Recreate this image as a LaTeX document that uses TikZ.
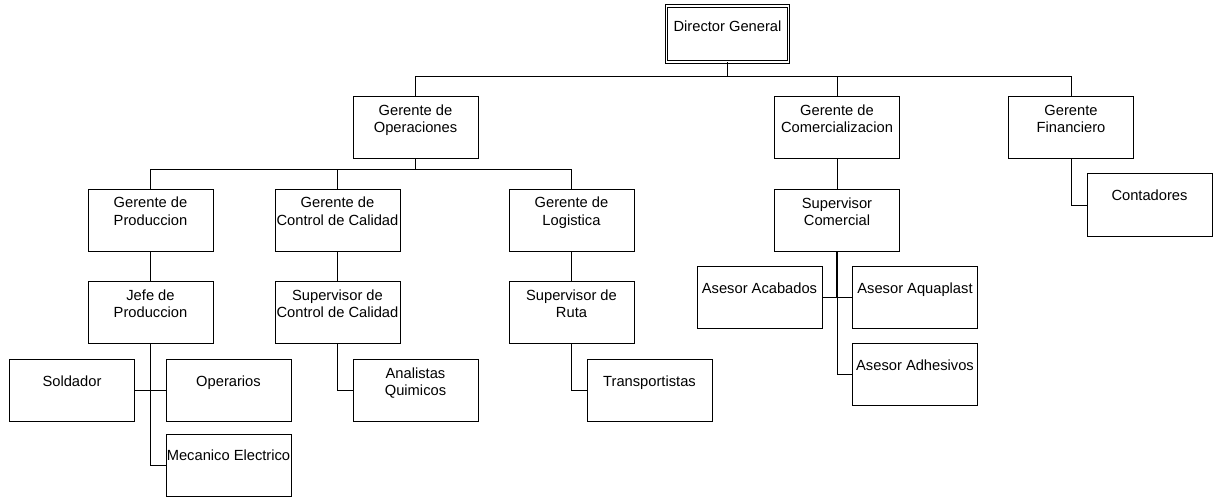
\documentclass[tikz,border=0pt]{standalone}
\usepackage{fontspec}
\setmainfont{Liberation Sans}
\newcommand{\bt}[3][62pt]{\parbox[c][#1][t]{125pt}{\centering\rule{0pt}{#2}#3}}
\begin{document}
\begin{tikzpicture}[x=1pt,y=-1pt,
  box/.style={draw, line width=1pt, inner sep=0pt, font=\fontsize{14.7pt}{17pt}\selectfont},
  conn/.style={line width=1pt}]
\useasboundingbox (0,0) rectangle (1214,497);
% level 1
\node[box, double, double distance=1.6pt, line width=0.8pt] (dir) at (727.5,34)
  {\parbox[c][56pt][t]{122pt}{\centering\rule{0pt}{26pt}Director General}};
% level 2
\node[box] (gop)  at (415.5,128) {\bt{19pt}{Gerente de\\Operaciones}};
\node[box] (gcom) at (837,128)   {\bt{19pt}{Gerente de\\Comercializacion}};
\node[box] (gfin) at (1071,128)  {\bt{19pt}{Gerente\\Financiero}};
% level 3
\node[box] (gprod)  at (150.5,220) {\bt{19pt}{Gerente de\\Produccion}};
\node[box] (gcal)   at (337.5,220) {\bt{19pt}{Gerente de\\Control de Calidad}};
\node[box] (glog)   at (571.5,220) {\bt{19pt}{Gerente de\\Logistica}};
\node[box] (supcom) at (837,220.5) {\bt{19pt}{Supervisor\\Comercial}};
\node[box] (conta)  at (1149.5,205) {\bt{27pt}{Contadores}};
% level 4
\node[box] (jefe)    at (150.5,312.5) {\bt{19pt}{Jefe de\\Produccion}};
\node[box] (supcal)  at (337.5,312.5) {\bt{19pt}{Supervisor de\\Control de Calidad}};
\node[box] (supruta) at (571.5,312.5) {\bt{19pt}{Supervisor de\\Ruta}};
\node[box] (acab)    at (759.5,297.5) {\bt{27pt}{Asesor Acabados}};
\node[box] (aqua)    at (915,297.5)   {\bt{27pt}{Asesor Aquaplast}};
\node[box] (adhe)    at (915,374)     {\bt{27pt}{Asesor Adhesivos}};
% level 5
\node[box] (sold)  at (72,390)    {\bt{27pt}{Soldador}};
\node[box] (oper)  at (228.5,390) {\bt{27pt}{Operarios}};
\node[box] (mec)   at (228.5,465.5) {\bt{26pt}{Mecanico Electrico}};
\node[box] (anal)  at (415.5,390) {\bt{19pt}{Analistas\\Quimicos}};
\node[box] (transp) at (649.5,390) {\bt{27pt}{Transportistas}};
% bus coordinates
\coordinate (b1) at (727.5,77);
\coordinate (b2) at (415.5,170);
% connectors level 1-2
\draw[conn] (dir.south) -- (b1);
\draw[conn] (gop.north) -- (gop.north |- b1) -- (gfin.north |- b1) -- (gfin.north);
\draw[conn] (gcom.north) -- (gcom.north |- b1);
% connectors operaciones
\draw[conn] (gop.south) -- (b2);
\draw[conn] (gprod.north) -- (gprod.north |- b2) -- (glog.north |- b2) -- (glog.north);
\draw[conn] (gcal.north) -- (gcal.north |- b2);
\draw[conn] (gprod) -- (jefe);
\draw[conn] (gcal) -- (supcal);
\draw[conn] (glog) -- (supruta);
\draw[conn] (jefe.south) -- (jefe.south |- mec.west) -- (mec.west);
\draw[conn] (sold.east) -- (oper.west);
\draw[conn] (supcal.south) -- (supcal.south |- anal.west) -- (anal.west);
\draw[conn] (supruta.south) -- (supruta.south |- transp.west) -- (transp.west);
% connectors comercializacion
\draw[conn] (gcom) -- (supcom);
\draw[line width=1.6pt] (supcom.south) -- (supcom.south |- acab.east);
\draw[conn] (supcom.south) -- (supcom.south |- adhe.west) -- (adhe.west);
\draw[conn] (acab.east) -- (aqua.west);
% connectors financiero
\draw[conn] (gfin.south) -- (gfin.south |- conta.west) -- (conta.west);
\end{tikzpicture}
\end{document}
